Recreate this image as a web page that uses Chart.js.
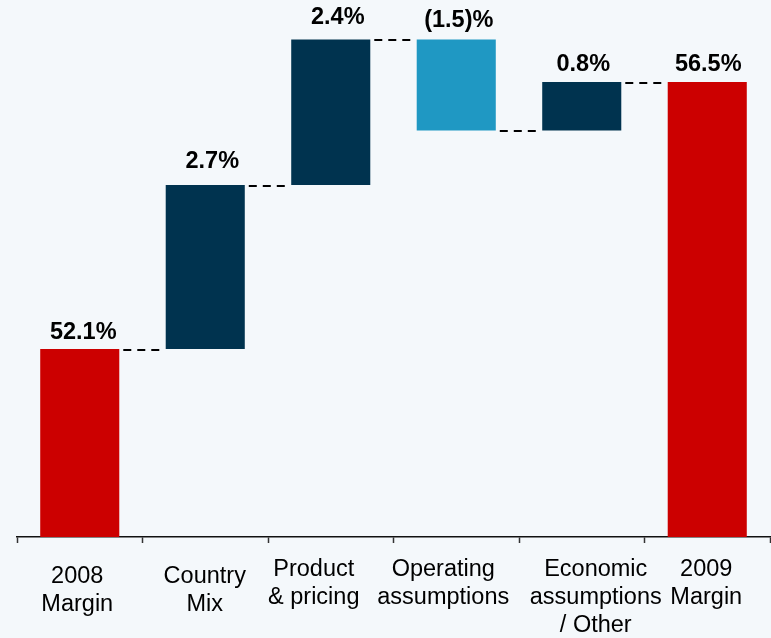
<!DOCTYPE html>
<html>
<head>
<meta charset="utf-8">
<script src="https://cdn.jsdelivr.net/npm/chart.js@4.4.1/dist/chart.umd.min.js"></script>
<style>
  html, body { margin: 0; padding: 0; background: #F4F8FB; }
  #wrap { width: 771px; height: 638px; position: relative; }
</style>
</head>
<body>
<div id="wrap"><canvas id="chart"></canvas></div>
<script>
// Margin bridge 2008 -> 2009 (percent)
const categories = [
  ['2008', 'Margin'],
  ['Country', 'Mix'],
  ['Product', '& pricing'],
  ['Operating', 'assumptions'],
  ['Economic', 'assumptions', '/ Other'],
  ['2009', 'Margin']
];
const startMargin = 52.1;
const changes = [2.7, 2.4, -1.5, 0.8];
const endMargin = 56.5;
const axisMin = 49;
const axisMax = 57.85;

const RED = '#CC0000', NAVY = '#00334F', BLUE = '#1F98C3';

// floating bars: [low, high] built from the running total
const ranges = [];
const labels = [];
const colors = [];
const levels = []; // running total after each bar (for connectors)
ranges.push([axisMin, startMargin]);
labels.push(startMargin.toFixed(1) + '%');
colors.push(RED);
let total = startMargin;
levels.push(total);
changes.forEach(d => {
  const next = Math.round((total + d) * 10) / 10;
  ranges.push([Math.min(total, next), Math.max(total, next)]);
  labels.push(d < 0 ? '(' + Math.abs(d).toFixed(1) + ')%' : d.toFixed(1) + '%');
  colors.push(d < 0 ? BLUE : NAVY);
  total = next;
  levels.push(total);
});
ranges.push([axisMin, endMargin]);
labels.push(endMargin.toFixed(1) + '%');
colors.push(RED);

const FONT = '"Liberation Sans", Arial, sans-serif';

const bridgePlugin = {
  id: 'bridge',
  afterDatasetsDraw(chart, args, opts) {
    const ctx = chart.ctx;
    const y = chart.scales.y;
    const meta = chart.getDatasetMeta(0);
    ctx.save();
    // dashed connectors between consecutive bars
    ctx.strokeStyle = '#000';
    ctx.lineWidth = 2;
    ctx.setLineDash([8, 6]);
    for (let i = 0; i < meta.data.length - 1; i++) {
      const a = meta.data[i], b = meta.data[i + 1];
      const py = Math.round(y.getPixelForValue(levels[i])) + 1;
      ctx.beginPath();
      ctx.moveTo(a.x + a.width / 2 + 4, py);
      ctx.lineTo(b.x - b.width / 2 - 1, py);
      ctx.stroke();
    }
    ctx.setLineDash([]);
    // value labels above each bar
    ctx.fillStyle = '#000';
    ctx.font = 'bold 23.5px ' + FONT;
    ctx.textAlign = 'center';
    ctx.textBaseline = 'alphabetic';
    meta.data.forEach((bar, i) => {
      const top = y.getPixelForValue(ranges[i][1]);
      ctx.fillText(labels[i], bar.x + opts.valueDx[i], top - opts.valueGap[i]);
    });
    ctx.restore();
  },
  afterDraw(chart, args, opts) {
    const ctx = chart.ctx;
    const x = chart.scales.x;
    ctx.save();
    ctx.fillStyle = '#000';
    ctx.font = '23.5px ' + FONT;
    ctx.textAlign = 'center';
    ctx.textBaseline = 'alphabetic';
    categories.forEach((lines, i) => {
      const cx = x.getPixelForValue(i) + opts.labelDx[i];
      const y0 = x.top + opts.firstLine[i];
      lines.forEach((t, k) => ctx.fillText(t, cx, y0 + k * opts.lineStep));
    });
    ctx.restore();
  }
};

new Chart(document.getElementById('chart'), {
  type: 'bar',
  data: {
    labels: categories,
    datasets: [{
      data: ranges,
      backgroundColor: colors,
      borderWidth: 0,
      barPercentage: 0.63,
      categoryPercentage: 1.0
    }]
  },
  options: {
    responsive: true,
    maintainAspectRatio: false,
    animation: false,
    layout: { padding: { left: 17, right: 1, top: 0, bottom: 95 } },
    plugins: {
      legend: { display: false },
      tooltip: { enabled: false },
      bridge: {
        valueGap: [10, 17, 15, 12, 10.5, 10.5],
        valueDx: [3.5, 7, 7, 2.5, 1.5, 1],
        firstLine: [46, 46, 39, 39, 39, 39],
        labelDx: [-2.5, -0.5, -17, -13, 14, -1],
        lineStep: 28
      }
    },
    scales: {
      x: {
        offset: true,
        grid: {
          offset: true,
          drawOnChartArea: false,
          drawTicks: true,
          tickLength: 6,
          tickWidth: 1.5,
          tickColor: '#333'
        },
        border: { display: true, color: '#111', width: 1.5 },
        ticks: { display: false }
      },
      y: {
        display: false,
        min: axisMin,
        max: axisMax
      }
    }
  },
  plugins: [bridgePlugin]
});
</script>
</body>
</html>
